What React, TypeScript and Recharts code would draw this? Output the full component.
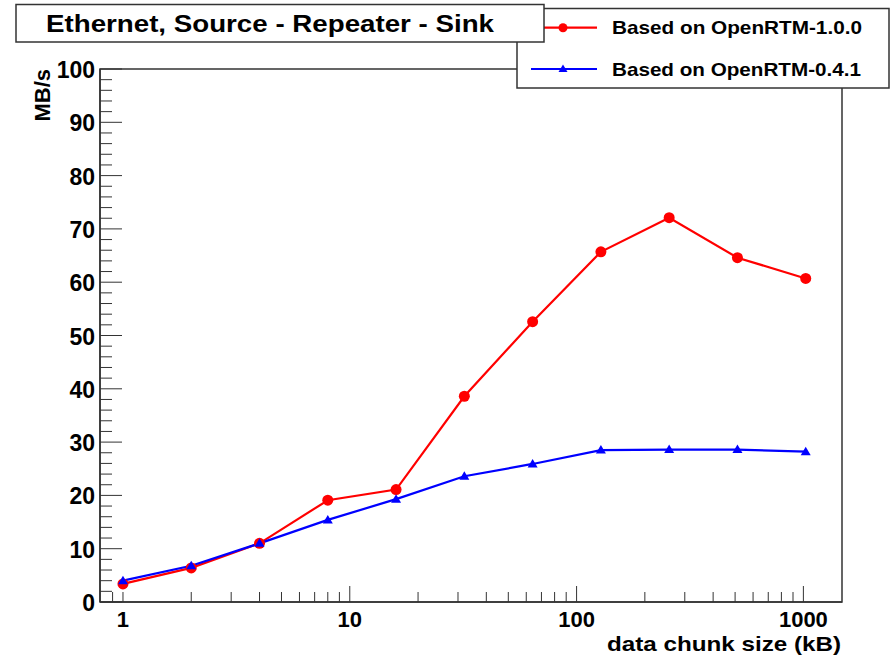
import React from 'react';
import { LineChart, Line, XAxis, YAxis, ReferenceArea } from 'recharts';

const chunkSizes = [1, 2, 4, 8, 16, 32, 64, 128, 256, 512, 1024];
const openRTM100 = [3.4, 6.4, 11.0, 19.1, 21.1, 38.6, 52.6, 65.7, 72.1, 64.6, 60.7];
const openRTM041 = [4.0, 6.8, 11.0, 15.4, 19.3, 23.6, 25.9, 28.5, 28.6, 28.6, 28.2];

const xTicks = [0.9, 1, 2, 3, 4, 5, 6, 7, 8, 9, 10, 20, 30, 40, 50, 60, 70, 80, 90, 100, 200, 300, 400, 500, 600, 700, 800, 900, 1000];
const xLabelTicks = [1, 10, 100, 1000];
const xMajorTicks = [10, 100, 1000];
const yTicks = [0, 2, 4, 6, 8, 10, 12, 14, 16, 18, 20, 22, 24, 26, 28, 30, 32, 34, 36, 38, 40, 42, 44, 46, 48, 50, 52, 54, 56, 58, 60, 62, 64, 66, 68, 70, 72, 74, 76, 78, 80, 82, 84, 86, 88, 90, 92, 94, 96, 98, 100];
const xDomain = [0.792, 1480];
const yDomain = [0, 100];

const titleText = 'Ethernet, Source - Repeater - Sink';
const seriesNames = ['Based on OpenRTM-1.0.0', 'Based on OpenRTM-0.4.1'];
const xTitle = 'data chunk size (kB)';
const yTitle = 'MB/s';

const data = chunkSizes.map((s, i) => ({ size: s, v100: openRTM100[i], v041: openRTM041[i] }));

const FONT = '"Liberation Sans", Arial, Helvetica, sans-serif';
const AX = '#333';

const XTick = (props: any) => {
  const { x, y, payload } = props;
  const v = payload.value;
  const major = xMajorTicks.includes(v);
  const label = xLabelTicks.includes(v);
  return (
    <g>
      <line x1={x} x2={x} y1={y} y2={y - (major ? 16 : 10)} stroke={AX} strokeWidth={1} />
      {label && (
        <text x={x} y={y + 25} textAnchor="middle" fontFamily={FONT} fontWeight="bold" fontSize={22} fill="#000">
          {v}
        </text>
      )}
    </g>
  );
};

const YTick = (props: any) => {
  const { x, y, payload } = props;
  const v = payload.value;
  const major = v % 10 === 0;
  return (
    <g>
      <line x1={x} x2={x + (major ? 22 : 12)} y1={y} y2={y} stroke={AX} strokeWidth={1} />
      {major && (
        <text x={x - 5} y={y + 9} textAnchor="end" fontFamily={FONT} fontWeight="bold" fontSize={23} fill="#000">
          {v}
        </text>
      )}
    </g>
  );
};

const CircleDot = (props: any) => {
  const { cx, cy } = props;
  if (cx == null || cy == null) return null;
  return <circle cx={cx} cy={cy} r={5.5} fill="#ff0000" stroke="none" />;
};

const TriDot = (props: any) => {
  const { cx, cy } = props;
  if (cx == null || cy == null) return null;
  return (
    <polygon
      points={`${cx},${cy - 5} ${cx - 5},${cy + 3.5} ${cx + 5},${cy + 3.5}`}
      fill="#0000ff"
      stroke="none"
    />
  );
};

export default function App() {
  return (
    <div style={{ position: 'absolute', left: 0, top: 0, width: 896, height: 657, background: '#fff' }}>
      <LineChart width={896} height={657} data={data} margin={{ top: 69, right: 54, left: 40, bottom: 0 }}>
        <XAxis
          dataKey="size"
          type="number"
          scale="log"
          domain={xDomain}
          allowDataOverflow
          ticks={xTicks}
          interval={0}
          tickSize={0}
          tickMargin={0}
          tickLine={false}
          tick={<XTick />}
          height={55}
          axisLine={{ stroke: AX, strokeWidth: 1.5 }}
        />
        <YAxis
          type="number"
          domain={yDomain}
          allowDataOverflow
          ticks={yTicks}
          interval={0}
          tickSize={0}
          tickMargin={0}
          tickLine={false}
          tick={<YTick />}
          width={60}
          axisLine={{ stroke: AX, strokeWidth: 1.5 }}
        />
        <ReferenceArea x1={xDomain[0]} x2={xDomain[1]} y1={0} y2={100} fill="none" stroke={AX} strokeWidth={1.5} />
        <Line dataKey="v100" stroke="#ff0000" strokeWidth={2.2} dot={<CircleDot />} isAnimationActive={false} />
        <Line dataKey="v041" stroke="#0000ff" strokeWidth={2.2} dot={<TriDot />} isAnimationActive={false} />
      </LineChart>
      <svg width={896} height={657} style={{ position: 'absolute', left: 0, top: 0, pointerEvents: 'none' }}>
        {/* legend */}
        <rect x={517} y={8.5} width={372} height={79.5} fill="#fff" stroke={AX} strokeWidth={1.5} />
        <line x1={531} x2={597} y1={27.7} y2={27.7} stroke="#ff0000" strokeWidth={2.2} />
        <circle cx={563} cy={27.7} r={4.5} fill="#ff0000" />
        <text x={612} y={34.3} fontFamily={FONT} fontWeight="bold" fontSize={19} textLength={250} lengthAdjust="spacingAndGlyphs" fill="#000">
          {seriesNames[0]}
        </text>
        <line x1={531} x2={597} y1={69} y2={69} stroke="#0000ff" strokeWidth={2.2} />
        <polygon points="563,64.5 558.5,72 567.5,72" fill="#0000ff" />
        <text x={612} y={75.7} fontFamily={FONT} fontWeight="bold" fontSize={19} textLength={249} lengthAdjust="spacingAndGlyphs" fill="#000">
          {seriesNames[1]}
        </text>
        {/* title */}
        <rect x={16} y={4.5} width={528} height={37.5} fill="#fff" stroke={AX} strokeWidth={1.5} />
        <text x={46} y={32} fontFamily={FONT} fontWeight="bold" fontSize={24} textLength={448} lengthAdjust="spacingAndGlyphs" fill="#000">
          {titleText}
        </text>
        {/* axis titles */}
        <text x={841} y={651} textAnchor="end" fontFamily={FONT} fontWeight="bold" fontSize={21} textLength={234} lengthAdjust="spacingAndGlyphs" fill="#000">
          {xTitle}
        </text>
        <text transform="translate(50,69) rotate(-90)" x={0} y={0} textAnchor="end" fontFamily={FONT} fontWeight="bold" fontSize={22} fill="#000">
          {yTitle}
        </text>
      </svg>
    </div>
  );
}
